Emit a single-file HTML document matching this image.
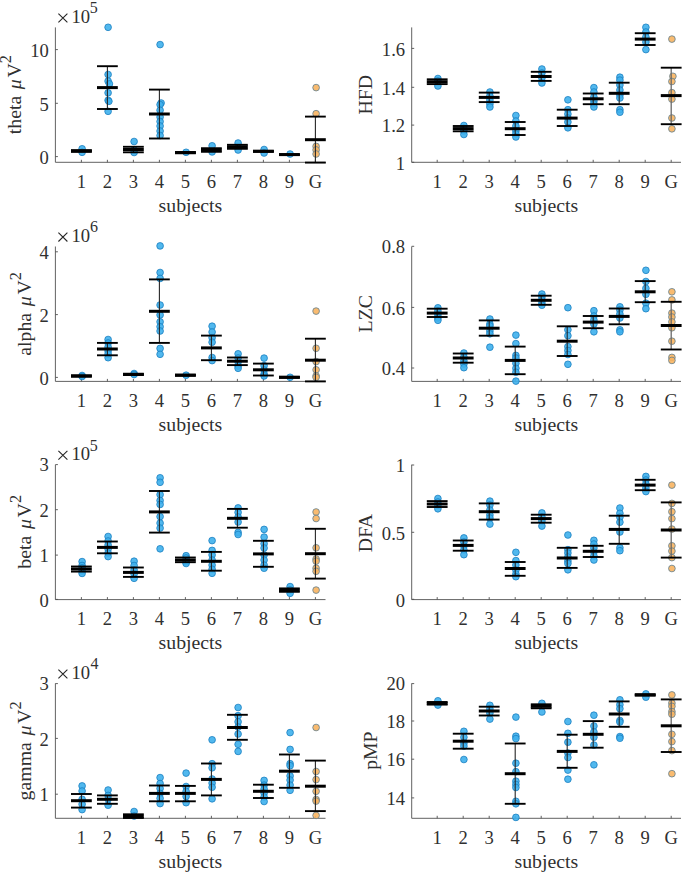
<!DOCTYPE html>
<html><head><meta charset="utf-8"><style>
html,body{margin:0;padding:0;background:#fff;}
svg{display:block;}
text{font-family:"Liberation Serif",serif;fill:#303030;}
.t{font-size:18.6px;}
.l{font-size:19.8px;}
.s2{font-size:16.5px;}
.se{font-size:16.0px;}
.times{fill:none;stroke:#262626;stroke-width:1.1;}
.ax{fill:none;stroke:#505050;stroke-width:0.9;}
.tk{stroke:#505050;stroke-width:0.9;}
.b{fill:#3eb0ec;fill-opacity:0.9;stroke:#1a7fc0;stroke-width:0.8;}
.o{fill:#f8b460;fill-opacity:0.9;stroke:#5f7f90;stroke-width:0.8;}
.v{stroke:#262626;stroke-width:1.1;}
.vg{stroke:#6a6a6a;stroke-width:1.3;}
.cap{stroke:#000;stroke-width:1.9;}
.mean{stroke:#000;stroke-width:3.0;}
</style></head>
<body><svg width="685" height="873" viewBox="0 0 685 873">
<rect width="685" height="873" fill="#fff"/>
<path class="ax" d="M55.4 27.4V162.3H325.5"/>
<line class="tk" x1="81.4" y1="162.3" x2="81.4" y2="159.8"/>
<line class="tk" x1="107.4" y1="162.3" x2="107.4" y2="159.8"/>
<line class="tk" x1="133.4" y1="162.3" x2="133.4" y2="159.8"/>
<line class="tk" x1="159.4" y1="162.3" x2="159.4" y2="159.8"/>
<line class="tk" x1="185.4" y1="162.3" x2="185.4" y2="159.8"/>
<line class="tk" x1="211.4" y1="162.3" x2="211.4" y2="159.8"/>
<line class="tk" x1="237.4" y1="162.3" x2="237.4" y2="159.8"/>
<line class="tk" x1="263.4" y1="162.3" x2="263.4" y2="159.8"/>
<line class="tk" x1="289.4" y1="162.3" x2="289.4" y2="159.8"/>
<line class="tk" x1="315.4" y1="162.3" x2="315.4" y2="159.8"/>
<line class="tk" x1="55.4" y1="156.6" x2="57.9" y2="156.6"/>
<line class="tk" x1="55.4" y1="103.3" x2="57.9" y2="103.3"/>
<line class="tk" x1="55.4" y1="49.6" x2="57.9" y2="49.6"/>
<circle class="b" cx="82.1" cy="148.8" r="3.35"/>
<circle class="b" cx="82.1" cy="152.3" r="3.35"/>
<circle class="b" cx="108.1" cy="27.3" r="3.35"/>
<circle class="b" cx="108.1" cy="74.5" r="3.35"/>
<circle class="b" cx="108.1" cy="81.1" r="3.35"/>
<circle class="b" cx="109.4" cy="83.9" r="3.35"/>
<circle class="b" cx="108.1" cy="92.8" r="3.35"/>
<circle class="b" cx="108.1" cy="100.3" r="3.35"/>
<circle class="b" cx="108.9" cy="101.3" r="3.35"/>
<circle class="b" cx="108.1" cy="111.3" r="3.35"/>
<circle class="b" cx="134.1" cy="141.5" r="3.35"/>
<circle class="b" cx="134.1" cy="150" r="3.35"/>
<circle class="b" cx="134.1" cy="152.5" r="3.35"/>
<circle class="b" cx="160.1" cy="44.6" r="3.35"/>
<circle class="b" cx="161.1" cy="103" r="3.35"/>
<circle class="b" cx="160.1" cy="104.6" r="3.35"/>
<circle class="b" cx="160.1" cy="110.2" r="3.35"/>
<circle class="b" cx="160.1" cy="117" r="3.35"/>
<circle class="b" cx="160.1" cy="121.5" r="3.35"/>
<circle class="b" cx="160.1" cy="126" r="3.35"/>
<circle class="b" cx="160.1" cy="131" r="3.35"/>
<circle class="b" cx="160.1" cy="135.5" r="3.35"/>
<circle class="b" cx="186.1" cy="152.3" r="3.35"/>
<circle class="b" cx="212.1" cy="145.8" r="3.35"/>
<circle class="b" cx="212.1" cy="151.9" r="3.35"/>
<circle class="b" cx="238.1" cy="143" r="3.35"/>
<circle class="b" cx="238.1" cy="150" r="3.35"/>
<circle class="b" cx="264.1" cy="149.5" r="3.35"/>
<circle class="b" cx="264.1" cy="153" r="3.35"/>
<circle class="b" cx="290.1" cy="154" r="3.35"/>
<circle class="o" cx="316.1" cy="87.6" r="3.35"/>
<circle class="o" cx="316.1" cy="113.7" r="3.35"/>
<circle class="o" cx="316.1" cy="146.4" r="3.35"/>
<circle class="o" cx="316.1" cy="149.9" r="3.35"/>
<circle class="o" cx="316.1" cy="154" r="3.35"/>
<line class="v" x1="81.4" y1="150.2" x2="81.4" y2="151.8"/>
<line class="cap" x1="71" y1="150.2" x2="91.8" y2="150.2"/>
<line class="cap" x1="71" y1="151.8" x2="91.8" y2="151.8"/>
<line class="mean" x1="71" y1="151" x2="91.8" y2="151"/>
<line class="v" x1="107.4" y1="66.2" x2="107.4" y2="109"/>
<line class="cap" x1="97" y1="66.2" x2="117.8" y2="66.2"/>
<line class="cap" x1="97" y1="109" x2="117.8" y2="109"/>
<line class="mean" x1="97" y1="87.6" x2="117.8" y2="87.6"/>
<line class="v" x1="133.4" y1="146.8" x2="133.4" y2="152.3"/>
<line class="cap" x1="123" y1="146.8" x2="143.8" y2="146.8"/>
<line class="cap" x1="123" y1="152.3" x2="143.8" y2="152.3"/>
<line class="mean" x1="123" y1="149.5" x2="143.8" y2="149.5"/>
<line class="v" x1="159.4" y1="89.6" x2="159.4" y2="138.5"/>
<line class="cap" x1="149" y1="89.6" x2="169.8" y2="89.6"/>
<line class="cap" x1="149" y1="138.5" x2="169.8" y2="138.5"/>
<line class="mean" x1="149" y1="114" x2="169.8" y2="114"/>
<line class="v" x1="185.4" y1="152" x2="185.4" y2="153.2"/>
<line class="cap" x1="175" y1="152" x2="195.8" y2="152"/>
<line class="cap" x1="175" y1="153.2" x2="195.8" y2="153.2"/>
<line class="mean" x1="175" y1="152.6" x2="195.8" y2="152.6"/>
<line class="v" x1="211.4" y1="148.2" x2="211.4" y2="151.8"/>
<line class="cap" x1="201" y1="148.2" x2="221.8" y2="148.2"/>
<line class="cap" x1="201" y1="151.8" x2="221.8" y2="151.8"/>
<line class="mean" x1="201" y1="150" x2="221.8" y2="150"/>
<line class="v" x1="237.4" y1="144.8" x2="237.4" y2="148.8"/>
<line class="cap" x1="227" y1="144.8" x2="247.8" y2="144.8"/>
<line class="cap" x1="227" y1="148.8" x2="247.8" y2="148.8"/>
<line class="mean" x1="227" y1="146.8" x2="247.8" y2="146.8"/>
<line class="v" x1="263.4" y1="150.8" x2="263.4" y2="151.8"/>
<line class="cap" x1="253" y1="150.8" x2="273.8" y2="150.8"/>
<line class="cap" x1="253" y1="151.8" x2="273.8" y2="151.8"/>
<line class="mean" x1="253" y1="151.3" x2="273.8" y2="151.3"/>
<line class="v" x1="289.4" y1="154.2" x2="289.4" y2="155"/>
<line class="cap" x1="279" y1="154.2" x2="299.8" y2="154.2"/>
<line class="cap" x1="279" y1="155" x2="299.8" y2="155"/>
<line class="mean" x1="279" y1="154.6" x2="299.8" y2="154.6"/>
<line class="v" x1="315.4" y1="116.6" x2="315.4" y2="162.6"/>
<line class="cap" x1="305" y1="116.6" x2="325.8" y2="116.6"/>
<line class="cap" x1="305" y1="162.6" x2="325.8" y2="162.6"/>
<line class="mean" x1="305" y1="139.7" x2="325.8" y2="139.7"/>
<text class="t" x="81.4" y="187.9" text-anchor="middle">1</text>
<text class="t" x="107.4" y="187.9" text-anchor="middle">2</text>
<text class="t" x="133.4" y="187.9" text-anchor="middle">3</text>
<text class="t" x="159.4" y="187.9" text-anchor="middle">4</text>
<text class="t" x="185.4" y="187.9" text-anchor="middle">5</text>
<text class="t" x="211.4" y="187.9" text-anchor="middle">6</text>
<text class="t" x="237.4" y="187.9" text-anchor="middle">7</text>
<text class="t" x="263.4" y="187.9" text-anchor="middle">8</text>
<text class="t" x="289.4" y="187.9" text-anchor="middle">9</text>
<text class="t" x="315.4" y="187.9" text-anchor="middle">G</text>
<text class="t" x="48.8" y="163.8" text-anchor="end">0</text>
<text class="t" x="48.8" y="110.5" text-anchor="end">5</text>
<text class="t" x="48.8" y="56.8" text-anchor="end">10</text>
<text class="l" x="190.45" y="211.7" text-anchor="middle">subjects</text>
<g transform="rotate(-90)"><text class="l" x="-134.18" y="20.8">theta</text><text class="l" x="-89.15" y="20.8" font-style="italic">μ</text><text class="l" x="-77.44" y="20.8">V</text><text class="s2" x="-63.14" y="10.8">2</text></g>
<path class="times" d="M58.4 13.6L67.4 22.4M58.4 22.4L67.4 13.6"/>
<text class="t" x="71.47" y="22.9">10</text>
<text class="se" x="89.87" y="13.3">5</text>
<path class="ax" d="M411.7 27.4V162.3H681"/>
<line class="tk" x1="437.2" y1="162.3" x2="437.2" y2="159.8"/>
<line class="tk" x1="463.2" y1="162.3" x2="463.2" y2="159.8"/>
<line class="tk" x1="489.2" y1="162.3" x2="489.2" y2="159.8"/>
<line class="tk" x1="515.2" y1="162.3" x2="515.2" y2="159.8"/>
<line class="tk" x1="541.2" y1="162.3" x2="541.2" y2="159.8"/>
<line class="tk" x1="567.2" y1="162.3" x2="567.2" y2="159.8"/>
<line class="tk" x1="593.2" y1="162.3" x2="593.2" y2="159.8"/>
<line class="tk" x1="619.2" y1="162.3" x2="619.2" y2="159.8"/>
<line class="tk" x1="645.2" y1="162.3" x2="645.2" y2="159.8"/>
<line class="tk" x1="671.2" y1="162.3" x2="671.2" y2="159.8"/>
<line class="tk" x1="411.7" y1="162.3" x2="414.2" y2="162.3"/>
<line class="tk" x1="411.7" y1="125.1" x2="414.2" y2="125.1"/>
<line class="tk" x1="411.7" y1="87.3" x2="414.2" y2="87.3"/>
<line class="tk" x1="411.7" y1="48.4" x2="414.2" y2="48.4"/>
<circle class="b" cx="437.9" cy="78.5" r="3.35"/>
<circle class="b" cx="437.9" cy="81" r="3.35"/>
<circle class="b" cx="437.9" cy="86" r="3.35"/>
<circle class="b" cx="463.9" cy="125.5" r="3.35"/>
<circle class="b" cx="463.9" cy="128.5" r="3.35"/>
<circle class="b" cx="463.9" cy="131" r="3.35"/>
<circle class="b" cx="463.9" cy="134.5" r="3.35"/>
<circle class="b" cx="489.9" cy="92" r="3.35"/>
<circle class="b" cx="489.9" cy="96" r="3.35"/>
<circle class="b" cx="489.9" cy="100" r="3.35"/>
<circle class="b" cx="489.9" cy="104" r="3.35"/>
<circle class="b" cx="489.9" cy="107" r="3.35"/>
<circle class="b" cx="515.9" cy="115.5" r="3.35"/>
<circle class="b" cx="515.9" cy="121" r="3.35"/>
<circle class="b" cx="515.9" cy="126" r="3.35"/>
<circle class="b" cx="515.9" cy="131" r="3.35"/>
<circle class="b" cx="515.9" cy="134" r="3.35"/>
<circle class="b" cx="515.9" cy="137" r="3.35"/>
<circle class="b" cx="541.9" cy="69" r="3.35"/>
<circle class="b" cx="541.9" cy="73" r="3.35"/>
<circle class="b" cx="541.9" cy="78" r="3.35"/>
<circle class="b" cx="541.9" cy="83" r="3.35"/>
<circle class="b" cx="567.9" cy="99.8" r="3.35"/>
<circle class="b" cx="567.9" cy="109.7" r="3.35"/>
<circle class="b" cx="567.9" cy="114" r="3.35"/>
<circle class="b" cx="567.9" cy="118" r="3.35"/>
<circle class="b" cx="567.9" cy="122" r="3.35"/>
<circle class="b" cx="567.9" cy="127.8" r="3.35"/>
<circle class="b" cx="593.9" cy="87.6" r="3.35"/>
<circle class="b" cx="593.9" cy="92" r="3.35"/>
<circle class="b" cx="593.9" cy="97" r="3.35"/>
<circle class="b" cx="593.9" cy="101" r="3.35"/>
<circle class="b" cx="593.9" cy="104" r="3.35"/>
<circle class="b" cx="593.9" cy="107" r="3.35"/>
<circle class="b" cx="619.9" cy="77.2" r="3.35"/>
<circle class="b" cx="619.9" cy="80.1" r="3.35"/>
<circle class="b" cx="619.9" cy="85" r="3.35"/>
<circle class="b" cx="619.9" cy="90" r="3.35"/>
<circle class="b" cx="619.9" cy="95" r="3.35"/>
<circle class="b" cx="619.9" cy="98" r="3.35"/>
<circle class="b" cx="619.9" cy="109.7" r="3.35"/>
<circle class="b" cx="619.9" cy="112.2" r="3.35"/>
<circle class="b" cx="645.9" cy="27.3" r="3.35"/>
<circle class="b" cx="645.9" cy="32" r="3.35"/>
<circle class="b" cx="645.9" cy="37" r="3.35"/>
<circle class="b" cx="645.9" cy="42" r="3.35"/>
<circle class="b" cx="645.9" cy="49.6" r="3.35"/>
<circle class="o" cx="671.9" cy="39.1" r="3.35"/>
<circle class="o" cx="672.9" cy="76.3" r="3.35"/>
<circle class="o" cx="671.9" cy="81.5" r="3.35"/>
<circle class="o" cx="671.9" cy="92.7" r="3.35"/>
<circle class="o" cx="671.9" cy="99.1" r="3.35"/>
<circle class="o" cx="671.9" cy="118" r="3.35"/>
<circle class="o" cx="671.9" cy="128.8" r="3.35"/>
<line class="v" x1="437.2" y1="79.3" x2="437.2" y2="84.1"/>
<line class="cap" x1="426.8" y1="79.3" x2="447.6" y2="79.3"/>
<line class="cap" x1="426.8" y1="84.1" x2="447.6" y2="84.1"/>
<line class="mean" x1="426.8" y1="81.7" x2="447.6" y2="81.7"/>
<line class="v" x1="463.2" y1="126" x2="463.2" y2="131.3"/>
<line class="cap" x1="452.8" y1="126" x2="473.6" y2="126"/>
<line class="cap" x1="452.8" y1="131.3" x2="473.6" y2="131.3"/>
<line class="mean" x1="452.8" y1="128.6" x2="473.6" y2="128.6"/>
<line class="v" x1="489.2" y1="92.6" x2="489.2" y2="102.1"/>
<line class="cap" x1="478.8" y1="92.6" x2="499.6" y2="92.6"/>
<line class="cap" x1="478.8" y1="102.1" x2="499.6" y2="102.1"/>
<line class="mean" x1="478.8" y1="97.4" x2="499.6" y2="97.4"/>
<line class="v" x1="515.2" y1="122" x2="515.2" y2="135"/>
<line class="cap" x1="504.8" y1="122" x2="525.6" y2="122"/>
<line class="cap" x1="504.8" y1="135" x2="525.6" y2="135"/>
<line class="mean" x1="504.8" y1="128.7" x2="525.6" y2="128.7"/>
<line class="v" x1="541.2" y1="71.8" x2="541.2" y2="80.9"/>
<line class="cap" x1="530.8" y1="71.8" x2="551.6" y2="71.8"/>
<line class="cap" x1="530.8" y1="80.9" x2="551.6" y2="80.9"/>
<line class="mean" x1="530.8" y1="76.5" x2="551.6" y2="76.5"/>
<line class="v" x1="567.2" y1="109.7" x2="567.2" y2="126"/>
<line class="cap" x1="556.8" y1="109.7" x2="577.6" y2="109.7"/>
<line class="cap" x1="556.8" y1="126" x2="577.6" y2="126"/>
<line class="mean" x1="556.8" y1="118.1" x2="577.6" y2="118.1"/>
<line class="v" x1="593.2" y1="93.5" x2="593.2" y2="104.2"/>
<line class="cap" x1="582.8" y1="93.5" x2="603.6" y2="93.5"/>
<line class="cap" x1="582.8" y1="104.2" x2="603.6" y2="104.2"/>
<line class="mean" x1="582.8" y1="98.8" x2="603.6" y2="98.8"/>
<line class="v" x1="619.2" y1="82.7" x2="619.2" y2="104.2"/>
<line class="cap" x1="608.8" y1="82.7" x2="629.6" y2="82.7"/>
<line class="cap" x1="608.8" y1="104.2" x2="629.6" y2="104.2"/>
<line class="mean" x1="608.8" y1="93.3" x2="629.6" y2="93.3"/>
<line class="v" x1="645.2" y1="33.2" x2="645.2" y2="45"/>
<line class="cap" x1="634.8" y1="33.2" x2="655.6" y2="33.2"/>
<line class="cap" x1="634.8" y1="45" x2="655.6" y2="45"/>
<line class="mean" x1="634.8" y1="39.1" x2="655.6" y2="39.1"/>
<line class="vg" x1="671.2" y1="67.7" x2="671.2" y2="124.2"/>
<line class="cap" x1="660.8" y1="67.7" x2="681.6" y2="67.7"/>
<line class="cap" x1="660.8" y1="124.2" x2="681.6" y2="124.2"/>
<line class="mean" x1="660.8" y1="95.6" x2="681.6" y2="95.6"/>
<text class="t" x="437.2" y="187.9" text-anchor="middle">1</text>
<text class="t" x="463.2" y="187.9" text-anchor="middle">2</text>
<text class="t" x="489.2" y="187.9" text-anchor="middle">3</text>
<text class="t" x="515.2" y="187.9" text-anchor="middle">4</text>
<text class="t" x="541.2" y="187.9" text-anchor="middle">5</text>
<text class="t" x="567.2" y="187.9" text-anchor="middle">6</text>
<text class="t" x="593.2" y="187.9" text-anchor="middle">7</text>
<text class="t" x="619.2" y="187.9" text-anchor="middle">8</text>
<text class="t" x="645.2" y="187.9" text-anchor="middle">9</text>
<text class="t" x="671.2" y="187.9" text-anchor="middle">G</text>
<text class="t" x="405.1" y="170.2" text-anchor="end">1</text>
<text class="t" x="405.1" y="132.3" text-anchor="end">1.2</text>
<text class="t" x="405.1" y="94.5" text-anchor="end">1.4</text>
<text class="t" x="405.1" y="55.6" text-anchor="end">1.6</text>
<text class="l" x="546.35" y="211.7" text-anchor="middle">subjects</text>
<text class="l" transform="rotate(-90)" x="-114.54" y="371.8">HFD</text>
<path class="ax" d="M55.4 246.5V381.4H325.5"/>
<line class="tk" x1="81.4" y1="381.4" x2="81.4" y2="378.9"/>
<line class="tk" x1="107.4" y1="381.4" x2="107.4" y2="378.9"/>
<line class="tk" x1="133.4" y1="381.4" x2="133.4" y2="378.9"/>
<line class="tk" x1="159.4" y1="381.4" x2="159.4" y2="378.9"/>
<line class="tk" x1="185.4" y1="381.4" x2="185.4" y2="378.9"/>
<line class="tk" x1="211.4" y1="381.4" x2="211.4" y2="378.9"/>
<line class="tk" x1="237.4" y1="381.4" x2="237.4" y2="378.9"/>
<line class="tk" x1="263.4" y1="381.4" x2="263.4" y2="378.9"/>
<line class="tk" x1="289.4" y1="381.4" x2="289.4" y2="378.9"/>
<line class="tk" x1="315.4" y1="381.4" x2="315.4" y2="378.9"/>
<line class="tk" x1="55.4" y1="377.4" x2="57.9" y2="377.4"/>
<line class="tk" x1="55.4" y1="314.6" x2="57.9" y2="314.6"/>
<line class="tk" x1="55.4" y1="251.8" x2="57.9" y2="251.8"/>
<circle class="b" cx="82.1" cy="375.5" r="3.35"/>
<circle class="b" cx="82.1" cy="376.5" r="3.35"/>
<circle class="b" cx="108.1" cy="339.5" r="3.35"/>
<circle class="b" cx="108.1" cy="343" r="3.35"/>
<circle class="b" cx="108.1" cy="347" r="3.35"/>
<circle class="b" cx="108.1" cy="351" r="3.35"/>
<circle class="b" cx="108.1" cy="354" r="3.35"/>
<circle class="b" cx="108.1" cy="357.7" r="3.35"/>
<circle class="b" cx="134.1" cy="373.5" r="3.35"/>
<circle class="b" cx="134.1" cy="374.5" r="3.35"/>
<circle class="b" cx="160.1" cy="245.9" r="3.35"/>
<circle class="b" cx="160.1" cy="272.5" r="3.35"/>
<circle class="b" cx="160.1" cy="278.4" r="3.35"/>
<circle class="b" cx="160.1" cy="305" r="3.35"/>
<circle class="b" cx="160.1" cy="314.9" r="3.35"/>
<circle class="b" cx="160.1" cy="321.8" r="3.35"/>
<circle class="b" cx="160.1" cy="326.7" r="3.35"/>
<circle class="b" cx="160.1" cy="331" r="3.35"/>
<circle class="b" cx="160.1" cy="348.4" r="3.35"/>
<circle class="b" cx="160.1" cy="354.3" r="3.35"/>
<circle class="b" cx="186.1" cy="375.2" r="3.35"/>
<circle class="b" cx="212.1" cy="326.2" r="3.35"/>
<circle class="b" cx="212.1" cy="332" r="3.35"/>
<circle class="b" cx="212.1" cy="337.7" r="3.35"/>
<circle class="b" cx="212.1" cy="342.2" r="3.35"/>
<circle class="b" cx="212.1" cy="357.5" r="3.35"/>
<circle class="b" cx="212.1" cy="360.6" r="3.35"/>
<circle class="b" cx="238.1" cy="353.8" r="3.35"/>
<circle class="b" cx="238.1" cy="358" r="3.35"/>
<circle class="b" cx="238.1" cy="362" r="3.35"/>
<circle class="b" cx="238.1" cy="366" r="3.35"/>
<circle class="b" cx="238.1" cy="368.3" r="3.35"/>
<circle class="b" cx="264.1" cy="358.1" r="3.35"/>
<circle class="b" cx="264.1" cy="365.7" r="3.35"/>
<circle class="b" cx="264.1" cy="370" r="3.35"/>
<circle class="b" cx="264.1" cy="374" r="3.35"/>
<circle class="b" cx="264.1" cy="375.9" r="3.35"/>
<circle class="b" cx="290.1" cy="377.3" r="3.35"/>
<circle class="o" cx="316.1" cy="311.1" r="3.35"/>
<circle class="o" cx="316.1" cy="348.3" r="3.35"/>
<circle class="o" cx="316.1" cy="361.6" r="3.35"/>
<circle class="o" cx="316.1" cy="369.8" r="3.35"/>
<circle class="o" cx="316.1" cy="375.9" r="3.35"/>
<circle class="o" cx="316.1" cy="377.3" r="3.35"/>
<line class="v" x1="81.4" y1="375.4" x2="81.4" y2="376.6"/>
<line class="cap" x1="71" y1="375.4" x2="91.8" y2="375.4"/>
<line class="cap" x1="71" y1="376.6" x2="91.8" y2="376.6"/>
<line class="mean" x1="71" y1="376" x2="91.8" y2="376"/>
<line class="v" x1="107.4" y1="342.9" x2="107.4" y2="355.3"/>
<line class="cap" x1="97" y1="342.9" x2="117.8" y2="342.9"/>
<line class="cap" x1="97" y1="355.3" x2="117.8" y2="355.3"/>
<line class="mean" x1="97" y1="349" x2="117.8" y2="349"/>
<line class="v" x1="133.4" y1="373.8" x2="133.4" y2="375"/>
<line class="cap" x1="123" y1="373.8" x2="143.8" y2="373.8"/>
<line class="cap" x1="123" y1="375" x2="143.8" y2="375"/>
<line class="mean" x1="123" y1="374.4" x2="143.8" y2="374.4"/>
<line class="v" x1="159.4" y1="279.4" x2="159.4" y2="342.9"/>
<line class="cap" x1="149" y1="279.4" x2="169.8" y2="279.4"/>
<line class="cap" x1="149" y1="342.9" x2="169.8" y2="342.9"/>
<line class="mean" x1="149" y1="311.3" x2="169.8" y2="311.3"/>
<line class="v" x1="185.4" y1="374.7" x2="185.4" y2="375.7"/>
<line class="cap" x1="175" y1="374.7" x2="195.8" y2="374.7"/>
<line class="cap" x1="175" y1="375.7" x2="195.8" y2="375.7"/>
<line class="mean" x1="175" y1="375.2" x2="195.8" y2="375.2"/>
<line class="v" x1="211.4" y1="335.6" x2="211.4" y2="360.2"/>
<line class="cap" x1="201" y1="335.6" x2="221.8" y2="335.6"/>
<line class="cap" x1="201" y1="360.2" x2="221.8" y2="360.2"/>
<line class="mean" x1="201" y1="347.9" x2="221.8" y2="347.9"/>
<line class="v" x1="237.4" y1="357.5" x2="237.4" y2="365.1"/>
<line class="cap" x1="227" y1="357.5" x2="247.8" y2="357.5"/>
<line class="cap" x1="227" y1="365.1" x2="247.8" y2="365.1"/>
<line class="mean" x1="227" y1="361.2" x2="247.8" y2="361.2"/>
<line class="v" x1="263.4" y1="363.6" x2="263.4" y2="375.5"/>
<line class="cap" x1="253" y1="363.6" x2="273.8" y2="363.6"/>
<line class="cap" x1="253" y1="375.5" x2="273.8" y2="375.5"/>
<line class="mean" x1="253" y1="369.8" x2="273.8" y2="369.8"/>
<line class="v" x1="289.4" y1="376.8" x2="289.4" y2="377.8"/>
<line class="cap" x1="279" y1="376.8" x2="299.8" y2="376.8"/>
<line class="cap" x1="279" y1="377.8" x2="299.8" y2="377.8"/>
<line class="mean" x1="279" y1="377.3" x2="299.8" y2="377.3"/>
<line class="v" x1="315.4" y1="338.7" x2="315.4" y2="381.4"/>
<line class="cap" x1="305" y1="338.7" x2="325.8" y2="338.7"/>
<line class="cap" x1="305" y1="381.4" x2="325.8" y2="381.4"/>
<line class="mean" x1="305" y1="360.2" x2="325.8" y2="360.2"/>
<text class="t" x="81.4" y="407" text-anchor="middle">1</text>
<text class="t" x="107.4" y="407" text-anchor="middle">2</text>
<text class="t" x="133.4" y="407" text-anchor="middle">3</text>
<text class="t" x="159.4" y="407" text-anchor="middle">4</text>
<text class="t" x="185.4" y="407" text-anchor="middle">5</text>
<text class="t" x="211.4" y="407" text-anchor="middle">6</text>
<text class="t" x="237.4" y="407" text-anchor="middle">7</text>
<text class="t" x="263.4" y="407" text-anchor="middle">8</text>
<text class="t" x="289.4" y="407" text-anchor="middle">9</text>
<text class="t" x="315.4" y="407" text-anchor="middle">G</text>
<text class="t" x="48.8" y="384.6" text-anchor="end">0</text>
<text class="t" x="48.8" y="321.8" text-anchor="end">2</text>
<text class="t" x="48.8" y="259" text-anchor="end">4</text>
<text class="l" x="190.45" y="430.8" text-anchor="middle">subjects</text>
<g transform="rotate(-90)"><text class="l" x="-355.73" y="30.8">alpha</text><text class="l" x="-306.3" y="30.8" font-style="italic">μ</text><text class="l" x="-294.59" y="30.8">V</text><text class="s2" x="-280.29" y="20.8">2</text></g>
<path class="times" d="M58.4 232.7L67.4 241.5M58.4 241.5L67.4 232.7"/>
<text class="t" x="71.47" y="242">10</text>
<text class="se" x="90.11" y="232.4">6</text>
<path class="ax" d="M411.7 246.5V381.4H681"/>
<line class="tk" x1="437.2" y1="381.4" x2="437.2" y2="378.9"/>
<line class="tk" x1="463.2" y1="381.4" x2="463.2" y2="378.9"/>
<line class="tk" x1="489.2" y1="381.4" x2="489.2" y2="378.9"/>
<line class="tk" x1="515.2" y1="381.4" x2="515.2" y2="378.9"/>
<line class="tk" x1="541.2" y1="381.4" x2="541.2" y2="378.9"/>
<line class="tk" x1="567.2" y1="381.4" x2="567.2" y2="378.9"/>
<line class="tk" x1="593.2" y1="381.4" x2="593.2" y2="378.9"/>
<line class="tk" x1="619.2" y1="381.4" x2="619.2" y2="378.9"/>
<line class="tk" x1="645.2" y1="381.4" x2="645.2" y2="378.9"/>
<line class="tk" x1="671.2" y1="381.4" x2="671.2" y2="378.9"/>
<line class="tk" x1="411.7" y1="368" x2="414.2" y2="368"/>
<line class="tk" x1="411.7" y1="307.4" x2="414.2" y2="307.4"/>
<line class="tk" x1="411.7" y1="246.3" x2="414.2" y2="246.3"/>
<circle class="b" cx="437.9" cy="307.8" r="3.35"/>
<circle class="b" cx="437.9" cy="311" r="3.35"/>
<circle class="b" cx="437.9" cy="315" r="3.35"/>
<circle class="b" cx="437.9" cy="318" r="3.35"/>
<circle class="b" cx="437.9" cy="320.3" r="3.35"/>
<circle class="b" cx="463.9" cy="353" r="3.35"/>
<circle class="b" cx="463.9" cy="357" r="3.35"/>
<circle class="b" cx="463.9" cy="361" r="3.35"/>
<circle class="b" cx="463.9" cy="364" r="3.35"/>
<circle class="b" cx="463.9" cy="367.7" r="3.35"/>
<circle class="b" cx="489.9" cy="319" r="3.35"/>
<circle class="b" cx="489.9" cy="324" r="3.35"/>
<circle class="b" cx="489.9" cy="325.9" r="3.35"/>
<circle class="b" cx="489.9" cy="331" r="3.35"/>
<circle class="b" cx="489.9" cy="333.8" r="3.35"/>
<circle class="b" cx="489.9" cy="347.2" r="3.35"/>
<circle class="b" cx="515.9" cy="335.1" r="3.35"/>
<circle class="b" cx="515.9" cy="343.6" r="3.35"/>
<circle class="b" cx="515.9" cy="355.4" r="3.35"/>
<circle class="b" cx="515.9" cy="358" r="3.35"/>
<circle class="b" cx="515.9" cy="363.3" r="3.35"/>
<circle class="b" cx="515.9" cy="368.3" r="3.35"/>
<circle class="b" cx="515.9" cy="372.2" r="3.35"/>
<circle class="b" cx="515.9" cy="381.1" r="3.35"/>
<circle class="b" cx="541.9" cy="294" r="3.35"/>
<circle class="b" cx="541.9" cy="297" r="3.35"/>
<circle class="b" cx="541.9" cy="300" r="3.35"/>
<circle class="b" cx="541.9" cy="303" r="3.35"/>
<circle class="b" cx="541.9" cy="305.2" r="3.35"/>
<circle class="b" cx="567.9" cy="307.7" r="3.35"/>
<circle class="b" cx="567.9" cy="329.8" r="3.35"/>
<circle class="b" cx="567.9" cy="335.7" r="3.35"/>
<circle class="b" cx="567.9" cy="346.6" r="3.35"/>
<circle class="b" cx="567.9" cy="350.5" r="3.35"/>
<circle class="b" cx="567.9" cy="354.5" r="3.35"/>
<circle class="b" cx="567.9" cy="364.3" r="3.35"/>
<circle class="b" cx="593.9" cy="310.7" r="3.35"/>
<circle class="b" cx="593.9" cy="316" r="3.35"/>
<circle class="b" cx="593.9" cy="320" r="3.35"/>
<circle class="b" cx="593.9" cy="324" r="3.35"/>
<circle class="b" cx="593.9" cy="331.8" r="3.35"/>
<circle class="b" cx="619.9" cy="306.8" r="3.35"/>
<circle class="b" cx="619.9" cy="310" r="3.35"/>
<circle class="b" cx="619.9" cy="314" r="3.35"/>
<circle class="b" cx="619.9" cy="318" r="3.35"/>
<circle class="b" cx="619.9" cy="329.8" r="3.35"/>
<circle class="b" cx="619.9" cy="331.8" r="3.35"/>
<circle class="b" cx="645.9" cy="270.3" r="3.35"/>
<circle class="b" cx="645.9" cy="281.5" r="3.35"/>
<circle class="b" cx="645.9" cy="288.4" r="3.35"/>
<circle class="b" cx="645.9" cy="294.3" r="3.35"/>
<circle class="b" cx="645.9" cy="303.2" r="3.35"/>
<circle class="b" cx="645.9" cy="308.7" r="3.35"/>
<circle class="o" cx="671.9" cy="291.8" r="3.35"/>
<circle class="o" cx="671.9" cy="299.9" r="3.35"/>
<circle class="o" cx="671.9" cy="313.1" r="3.35"/>
<circle class="o" cx="671.9" cy="317" r="3.35"/>
<circle class="o" cx="671.9" cy="321.9" r="3.35"/>
<circle class="o" cx="671.9" cy="327.8" r="3.35"/>
<circle class="o" cx="671.9" cy="341.2" r="3.35"/>
<circle class="o" cx="671.9" cy="357.4" r="3.35"/>
<circle class="o" cx="671.9" cy="360.4" r="3.35"/>
<line class="v" x1="437.2" y1="308.7" x2="437.2" y2="317"/>
<line class="cap" x1="426.8" y1="308.7" x2="447.6" y2="308.7"/>
<line class="cap" x1="426.8" y1="317" x2="447.6" y2="317"/>
<line class="mean" x1="426.8" y1="313.1" x2="447.6" y2="313.1"/>
<line class="v" x1="463.2" y1="353.5" x2="463.2" y2="362.7"/>
<line class="cap" x1="452.8" y1="353.5" x2="473.6" y2="353.5"/>
<line class="cap" x1="452.8" y1="362.7" x2="473.6" y2="362.7"/>
<line class="mean" x1="452.8" y1="358" x2="473.6" y2="358"/>
<line class="v" x1="489.2" y1="320.4" x2="489.2" y2="335.7"/>
<line class="cap" x1="478.8" y1="320.4" x2="499.6" y2="320.4"/>
<line class="cap" x1="478.8" y1="335.7" x2="499.6" y2="335.7"/>
<line class="mean" x1="478.8" y1="328.2" x2="499.6" y2="328.2"/>
<line class="v" x1="515.2" y1="346.6" x2="515.2" y2="374.2"/>
<line class="cap" x1="504.8" y1="346.6" x2="525.6" y2="346.6"/>
<line class="cap" x1="504.8" y1="374.2" x2="525.6" y2="374.2"/>
<line class="mean" x1="504.8" y1="360.4" x2="525.6" y2="360.4"/>
<line class="v" x1="541.2" y1="295.7" x2="541.2" y2="304.8"/>
<line class="cap" x1="530.8" y1="295.7" x2="551.6" y2="295.7"/>
<line class="cap" x1="530.8" y1="304.8" x2="551.6" y2="304.8"/>
<line class="mean" x1="530.8" y1="300.3" x2="551.6" y2="300.3"/>
<line class="v" x1="567.2" y1="326.3" x2="567.2" y2="356"/>
<line class="cap" x1="556.8" y1="326.3" x2="577.6" y2="326.3"/>
<line class="cap" x1="556.8" y1="356" x2="577.6" y2="356"/>
<line class="mean" x1="556.8" y1="341.2" x2="577.6" y2="341.2"/>
<line class="v" x1="593.2" y1="316" x2="593.2" y2="328.2"/>
<line class="cap" x1="582.8" y1="316" x2="603.6" y2="316"/>
<line class="cap" x1="582.8" y1="328.2" x2="603.6" y2="328.2"/>
<line class="mean" x1="582.8" y1="322.1" x2="603.6" y2="322.1"/>
<line class="v" x1="619.2" y1="308.5" x2="619.2" y2="324.3"/>
<line class="cap" x1="608.8" y1="308.5" x2="629.6" y2="308.5"/>
<line class="cap" x1="608.8" y1="324.3" x2="629.6" y2="324.3"/>
<line class="mean" x1="608.8" y1="316.4" x2="629.6" y2="316.4"/>
<line class="v" x1="645.2" y1="281.1" x2="645.2" y2="302.2"/>
<line class="cap" x1="634.8" y1="281.1" x2="655.6" y2="281.1"/>
<line class="cap" x1="634.8" y1="302.2" x2="655.6" y2="302.2"/>
<line class="mean" x1="634.8" y1="291.8" x2="655.6" y2="291.8"/>
<line class="vg" x1="671.2" y1="301.8" x2="671.2" y2="349.5"/>
<line class="cap" x1="660.8" y1="301.8" x2="681.6" y2="301.8"/>
<line class="cap" x1="660.8" y1="349.5" x2="681.6" y2="349.5"/>
<line class="mean" x1="660.8" y1="325.5" x2="681.6" y2="325.5"/>
<text class="t" x="437.2" y="407" text-anchor="middle">1</text>
<text class="t" x="463.2" y="407" text-anchor="middle">2</text>
<text class="t" x="489.2" y="407" text-anchor="middle">3</text>
<text class="t" x="515.2" y="407" text-anchor="middle">4</text>
<text class="t" x="541.2" y="407" text-anchor="middle">5</text>
<text class="t" x="567.2" y="407" text-anchor="middle">6</text>
<text class="t" x="593.2" y="407" text-anchor="middle">7</text>
<text class="t" x="619.2" y="407" text-anchor="middle">8</text>
<text class="t" x="645.2" y="407" text-anchor="middle">9</text>
<text class="t" x="671.2" y="407" text-anchor="middle">G</text>
<text class="t" x="405.1" y="375.2" text-anchor="end">0.4</text>
<text class="t" x="405.1" y="314.6" text-anchor="end">0.6</text>
<text class="t" x="405.1" y="253" text-anchor="end">0.8</text>
<text class="l" x="546.35" y="430.8" text-anchor="middle">subjects</text>
<text class="l" transform="rotate(-90)" x="-332.39" y="371.8">LZC</text>
<path class="ax" d="M55.4 464.7V599.6H325.5"/>
<line class="tk" x1="81.4" y1="599.6" x2="81.4" y2="597.1"/>
<line class="tk" x1="107.4" y1="599.6" x2="107.4" y2="597.1"/>
<line class="tk" x1="133.4" y1="599.6" x2="133.4" y2="597.1"/>
<line class="tk" x1="159.4" y1="599.6" x2="159.4" y2="597.1"/>
<line class="tk" x1="185.4" y1="599.6" x2="185.4" y2="597.1"/>
<line class="tk" x1="211.4" y1="599.6" x2="211.4" y2="597.1"/>
<line class="tk" x1="237.4" y1="599.6" x2="237.4" y2="597.1"/>
<line class="tk" x1="263.4" y1="599.6" x2="263.4" y2="597.1"/>
<line class="tk" x1="289.4" y1="599.6" x2="289.4" y2="597.1"/>
<line class="tk" x1="315.4" y1="599.6" x2="315.4" y2="597.1"/>
<line class="tk" x1="55.4" y1="599.4" x2="57.9" y2="599.4"/>
<line class="tk" x1="55.4" y1="555.1" x2="57.9" y2="555.1"/>
<line class="tk" x1="55.4" y1="509.7" x2="57.9" y2="509.7"/>
<line class="tk" x1="55.4" y1="464.6" x2="57.9" y2="464.6"/>
<circle class="b" cx="82.1" cy="561.6" r="3.35"/>
<circle class="b" cx="82.1" cy="565.5" r="3.35"/>
<circle class="b" cx="82.1" cy="568" r="3.35"/>
<circle class="b" cx="82.1" cy="571" r="3.35"/>
<circle class="b" cx="82.1" cy="573.4" r="3.35"/>
<circle class="b" cx="108.1" cy="536.5" r="3.35"/>
<circle class="b" cx="108.1" cy="541" r="3.35"/>
<circle class="b" cx="108.1" cy="545" r="3.35"/>
<circle class="b" cx="108.1" cy="549" r="3.35"/>
<circle class="b" cx="108.1" cy="553" r="3.35"/>
<circle class="b" cx="108.1" cy="556.6" r="3.35"/>
<circle class="b" cx="134.1" cy="561.2" r="3.35"/>
<circle class="b" cx="134.1" cy="565.5" r="3.35"/>
<circle class="b" cx="134.1" cy="570" r="3.35"/>
<circle class="b" cx="134.1" cy="574" r="3.35"/>
<circle class="b" cx="134.1" cy="578.3" r="3.35"/>
<circle class="b" cx="160.1" cy="477.8" r="3.35"/>
<circle class="b" cx="160.1" cy="482.3" r="3.35"/>
<circle class="b" cx="160.1" cy="494.6" r="3.35"/>
<circle class="b" cx="160.1" cy="500.5" r="3.35"/>
<circle class="b" cx="160.1" cy="504.4" r="3.35"/>
<circle class="b" cx="160.1" cy="516.6" r="3.35"/>
<circle class="b" cx="160.1" cy="523.1" r="3.35"/>
<circle class="b" cx="160.1" cy="528.1" r="3.35"/>
<circle class="b" cx="160.1" cy="548.8" r="3.35"/>
<circle class="b" cx="186.1" cy="555.7" r="3.35"/>
<circle class="b" cx="186.1" cy="558" r="3.35"/>
<circle class="b" cx="186.1" cy="562" r="3.35"/>
<circle class="b" cx="186.1" cy="563.5" r="3.35"/>
<circle class="b" cx="212.1" cy="540.6" r="3.35"/>
<circle class="b" cx="212.1" cy="550.4" r="3.35"/>
<circle class="b" cx="212.1" cy="554.9" r="3.35"/>
<circle class="b" cx="212.1" cy="560" r="3.35"/>
<circle class="b" cx="212.1" cy="565.1" r="3.35"/>
<circle class="b" cx="212.1" cy="569.2" r="3.35"/>
<circle class="b" cx="212.1" cy="573.3" r="3.35"/>
<circle class="b" cx="238.1" cy="507.9" r="3.35"/>
<circle class="b" cx="238.1" cy="512.4" r="3.35"/>
<circle class="b" cx="238.1" cy="517" r="3.35"/>
<circle class="b" cx="238.1" cy="522" r="3.35"/>
<circle class="b" cx="238.1" cy="532.4" r="3.35"/>
<circle class="b" cx="238.1" cy="534.5" r="3.35"/>
<circle class="b" cx="264.1" cy="529.4" r="3.35"/>
<circle class="b" cx="264.1" cy="537.1" r="3.35"/>
<circle class="b" cx="264.1" cy="543.7" r="3.35"/>
<circle class="b" cx="264.1" cy="548" r="3.35"/>
<circle class="b" cx="264.1" cy="554.9" r="3.35"/>
<circle class="b" cx="264.1" cy="560" r="3.35"/>
<circle class="b" cx="264.1" cy="565.1" r="3.35"/>
<circle class="b" cx="264.1" cy="568.2" r="3.35"/>
<circle class="b" cx="290.1" cy="586.6" r="3.35"/>
<circle class="b" cx="290.1" cy="590" r="3.35"/>
<circle class="b" cx="290.1" cy="593.3" r="3.35"/>
<circle class="o" cx="316.1" cy="512" r="3.35"/>
<circle class="o" cx="316.1" cy="518.5" r="3.35"/>
<circle class="o" cx="316.1" cy="547.8" r="3.35"/>
<circle class="o" cx="316.1" cy="559" r="3.35"/>
<circle class="o" cx="316.1" cy="561.1" r="3.35"/>
<circle class="o" cx="316.1" cy="568.2" r="3.35"/>
<circle class="o" cx="316.1" cy="571.3" r="3.35"/>
<circle class="o" cx="316.1" cy="590.1" r="3.35"/>
<line class="v" x1="81.4" y1="566.5" x2="81.4" y2="571.6"/>
<line class="cap" x1="71" y1="566.5" x2="91.8" y2="566.5"/>
<line class="cap" x1="71" y1="571.6" x2="91.8" y2="571.6"/>
<line class="mean" x1="71" y1="569" x2="91.8" y2="569"/>
<line class="v" x1="107.4" y1="541.5" x2="107.4" y2="553.3"/>
<line class="cap" x1="97" y1="541.5" x2="117.8" y2="541.5"/>
<line class="cap" x1="97" y1="553.3" x2="117.8" y2="553.3"/>
<line class="mean" x1="97" y1="547.4" x2="117.8" y2="547.4"/>
<line class="v" x1="133.4" y1="567.5" x2="133.4" y2="576.9"/>
<line class="cap" x1="123" y1="567.5" x2="143.8" y2="567.5"/>
<line class="cap" x1="123" y1="576.9" x2="143.8" y2="576.9"/>
<line class="mean" x1="123" y1="572.4" x2="143.8" y2="572.4"/>
<line class="v" x1="159.4" y1="491" x2="159.4" y2="532.6"/>
<line class="cap" x1="149" y1="491" x2="169.8" y2="491"/>
<line class="cap" x1="149" y1="532.6" x2="169.8" y2="532.6"/>
<line class="mean" x1="149" y1="511.9" x2="169.8" y2="511.9"/>
<line class="v" x1="185.4" y1="557.5" x2="185.4" y2="562.2"/>
<line class="cap" x1="175" y1="557.5" x2="195.8" y2="557.5"/>
<line class="cap" x1="175" y1="562.2" x2="195.8" y2="562.2"/>
<line class="mean" x1="175" y1="560" x2="195.8" y2="560"/>
<line class="v" x1="211.4" y1="551.9" x2="211.4" y2="570.7"/>
<line class="cap" x1="201" y1="551.9" x2="221.8" y2="551.9"/>
<line class="cap" x1="201" y1="570.7" x2="221.8" y2="570.7"/>
<line class="mean" x1="201" y1="561.3" x2="221.8" y2="561.3"/>
<line class="v" x1="237.4" y1="508.9" x2="237.4" y2="527.7"/>
<line class="cap" x1="227" y1="508.9" x2="247.8" y2="508.9"/>
<line class="cap" x1="227" y1="527.7" x2="247.8" y2="527.7"/>
<line class="mean" x1="227" y1="518.3" x2="247.8" y2="518.3"/>
<line class="v" x1="263.4" y1="540.8" x2="263.4" y2="566.8"/>
<line class="cap" x1="253" y1="540.8" x2="273.8" y2="540.8"/>
<line class="cap" x1="253" y1="566.8" x2="273.8" y2="566.8"/>
<line class="mean" x1="253" y1="553.9" x2="273.8" y2="553.9"/>
<line class="v" x1="289.4" y1="588.4" x2="289.4" y2="591.8"/>
<line class="cap" x1="279" y1="588.4" x2="299.8" y2="588.4"/>
<line class="cap" x1="279" y1="591.8" x2="299.8" y2="591.8"/>
<line class="mean" x1="279" y1="590.1" x2="299.8" y2="590.1"/>
<line class="v" x1="315.4" y1="528.8" x2="315.4" y2="578.6"/>
<line class="cap" x1="305" y1="528.8" x2="325.8" y2="528.8"/>
<line class="cap" x1="305" y1="578.6" x2="325.8" y2="578.6"/>
<line class="mean" x1="305" y1="553.7" x2="325.8" y2="553.7"/>
<text class="t" x="81.4" y="625.2" text-anchor="middle">1</text>
<text class="t" x="107.4" y="625.2" text-anchor="middle">2</text>
<text class="t" x="133.4" y="625.2" text-anchor="middle">3</text>
<text class="t" x="159.4" y="625.2" text-anchor="middle">4</text>
<text class="t" x="185.4" y="625.2" text-anchor="middle">5</text>
<text class="t" x="211.4" y="625.2" text-anchor="middle">6</text>
<text class="t" x="237.4" y="625.2" text-anchor="middle">7</text>
<text class="t" x="263.4" y="625.2" text-anchor="middle">8</text>
<text class="t" x="289.4" y="625.2" text-anchor="middle">9</text>
<text class="t" x="315.4" y="625.2" text-anchor="middle">G</text>
<text class="t" x="48.8" y="607.3" text-anchor="end">0</text>
<text class="t" x="48.8" y="562.3" text-anchor="end">1</text>
<text class="t" x="48.8" y="516.9" text-anchor="end">2</text>
<text class="t" x="48.8" y="471.3" text-anchor="end">3</text>
<text class="l" x="190.45" y="649" text-anchor="middle">subjects</text>
<g transform="rotate(-90)"><text class="l" x="-568.63" y="30.8">beta</text><text class="l" x="-529.1" y="30.8" font-style="italic">μ</text><text class="l" x="-517.39" y="30.8">V</text><text class="s2" x="-503.1" y="20.8">2</text></g>
<path class="times" d="M58.4 450.9L67.4 459.7M58.4 459.7L67.4 450.9"/>
<text class="t" x="71.47" y="460.2">10</text>
<text class="se" x="89.87" y="450.6">5</text>
<path class="ax" d="M411.7 464.7V599.6H681"/>
<line class="tk" x1="437.2" y1="599.6" x2="437.2" y2="597.1"/>
<line class="tk" x1="463.2" y1="599.6" x2="463.2" y2="597.1"/>
<line class="tk" x1="489.2" y1="599.6" x2="489.2" y2="597.1"/>
<line class="tk" x1="515.2" y1="599.6" x2="515.2" y2="597.1"/>
<line class="tk" x1="541.2" y1="599.6" x2="541.2" y2="597.1"/>
<line class="tk" x1="567.2" y1="599.6" x2="567.2" y2="597.1"/>
<line class="tk" x1="593.2" y1="599.6" x2="593.2" y2="597.1"/>
<line class="tk" x1="619.2" y1="599.6" x2="619.2" y2="597.1"/>
<line class="tk" x1="645.2" y1="599.6" x2="645.2" y2="597.1"/>
<line class="tk" x1="671.2" y1="599.6" x2="671.2" y2="597.1"/>
<line class="tk" x1="411.7" y1="599.3" x2="414.2" y2="599.3"/>
<line class="tk" x1="411.7" y1="532.3" x2="414.2" y2="532.3"/>
<line class="tk" x1="411.7" y1="465" x2="414.2" y2="465"/>
<circle class="b" cx="437.9" cy="498.5" r="3.35"/>
<circle class="b" cx="437.9" cy="502" r="3.35"/>
<circle class="b" cx="437.9" cy="505" r="3.35"/>
<circle class="b" cx="437.9" cy="508.8" r="3.35"/>
<circle class="b" cx="463.9" cy="537.9" r="3.35"/>
<circle class="b" cx="463.9" cy="542" r="3.35"/>
<circle class="b" cx="463.9" cy="546" r="3.35"/>
<circle class="b" cx="463.9" cy="550" r="3.35"/>
<circle class="b" cx="463.9" cy="554.7" r="3.35"/>
<circle class="b" cx="489.9" cy="501.1" r="3.35"/>
<circle class="b" cx="489.9" cy="505" r="3.35"/>
<circle class="b" cx="489.9" cy="510" r="3.35"/>
<circle class="b" cx="489.9" cy="515" r="3.35"/>
<circle class="b" cx="489.9" cy="518" r="3.35"/>
<circle class="b" cx="489.9" cy="524.1" r="3.35"/>
<circle class="b" cx="515.9" cy="552.3" r="3.35"/>
<circle class="b" cx="515.9" cy="560.6" r="3.35"/>
<circle class="b" cx="515.9" cy="565" r="3.35"/>
<circle class="b" cx="515.9" cy="570" r="3.35"/>
<circle class="b" cx="515.9" cy="574" r="3.35"/>
<circle class="b" cx="515.9" cy="576.7" r="3.35"/>
<circle class="b" cx="541.9" cy="512.9" r="3.35"/>
<circle class="b" cx="541.9" cy="517" r="3.35"/>
<circle class="b" cx="541.9" cy="521" r="3.35"/>
<circle class="b" cx="541.9" cy="526.1" r="3.35"/>
<circle class="b" cx="567.9" cy="535" r="3.35"/>
<circle class="b" cx="567.9" cy="549.7" r="3.35"/>
<circle class="b" cx="567.9" cy="553" r="3.35"/>
<circle class="b" cx="567.9" cy="557" r="3.35"/>
<circle class="b" cx="567.9" cy="561" r="3.35"/>
<circle class="b" cx="567.9" cy="563.5" r="3.35"/>
<circle class="b" cx="567.9" cy="569.8" r="3.35"/>
<circle class="b" cx="593.9" cy="540.3" r="3.35"/>
<circle class="b" cx="593.9" cy="544" r="3.35"/>
<circle class="b" cx="593.9" cy="548" r="3.35"/>
<circle class="b" cx="593.9" cy="552" r="3.35"/>
<circle class="b" cx="593.9" cy="556" r="3.35"/>
<circle class="b" cx="593.9" cy="560" r="3.35"/>
<circle class="b" cx="619.9" cy="508" r="3.35"/>
<circle class="b" cx="619.9" cy="513.3" r="3.35"/>
<circle class="b" cx="619.9" cy="517.2" r="3.35"/>
<circle class="b" cx="619.9" cy="522.2" r="3.35"/>
<circle class="b" cx="619.9" cy="532" r="3.35"/>
<circle class="b" cx="619.9" cy="547.8" r="3.35"/>
<circle class="b" cx="619.9" cy="550.7" r="3.35"/>
<circle class="b" cx="645.9" cy="476.4" r="3.35"/>
<circle class="b" cx="645.9" cy="480" r="3.35"/>
<circle class="b" cx="645.9" cy="484" r="3.35"/>
<circle class="b" cx="645.9" cy="488" r="3.35"/>
<circle class="b" cx="645.9" cy="491.6" r="3.35"/>
<circle class="o" cx="671.9" cy="485.1" r="3.35"/>
<circle class="o" cx="671.9" cy="503.4" r="3.35"/>
<circle class="o" cx="671.9" cy="511.7" r="3.35"/>
<circle class="o" cx="671.9" cy="518.6" r="3.35"/>
<circle class="o" cx="671.9" cy="529.1" r="3.35"/>
<circle class="o" cx="671.9" cy="545.8" r="3.35"/>
<circle class="o" cx="671.9" cy="551.1" r="3.35"/>
<circle class="o" cx="671.9" cy="557.6" r="3.35"/>
<circle class="o" cx="671.9" cy="568.5" r="3.35"/>
<line class="v" x1="437.2" y1="501.1" x2="437.2" y2="507"/>
<line class="cap" x1="426.8" y1="501.1" x2="447.6" y2="501.1"/>
<line class="cap" x1="426.8" y1="507" x2="447.6" y2="507"/>
<line class="mean" x1="426.8" y1="504" x2="447.6" y2="504"/>
<line class="v" x1="463.2" y1="540.5" x2="463.2" y2="550.7"/>
<line class="cap" x1="452.8" y1="540.5" x2="473.6" y2="540.5"/>
<line class="cap" x1="452.8" y1="550.7" x2="473.6" y2="550.7"/>
<line class="mean" x1="452.8" y1="545.4" x2="473.6" y2="545.4"/>
<line class="v" x1="489.2" y1="503.4" x2="489.2" y2="519.6"/>
<line class="cap" x1="478.8" y1="503.4" x2="499.6" y2="503.4"/>
<line class="cap" x1="478.8" y1="519.6" x2="499.6" y2="519.6"/>
<line class="mean" x1="478.8" y1="511.7" x2="499.6" y2="511.7"/>
<line class="v" x1="515.2" y1="562" x2="515.2" y2="575.8"/>
<line class="cap" x1="504.8" y1="562" x2="525.6" y2="562"/>
<line class="cap" x1="504.8" y1="575.8" x2="525.6" y2="575.8"/>
<line class="mean" x1="504.8" y1="568.5" x2="525.6" y2="568.5"/>
<line class="v" x1="541.2" y1="514.7" x2="541.2" y2="522.7"/>
<line class="cap" x1="530.8" y1="514.7" x2="551.6" y2="514.7"/>
<line class="cap" x1="530.8" y1="522.7" x2="551.6" y2="522.7"/>
<line class="mean" x1="530.8" y1="518.6" x2="551.6" y2="518.6"/>
<line class="v" x1="567.2" y1="547.8" x2="567.2" y2="567.9"/>
<line class="cap" x1="556.8" y1="547.8" x2="577.6" y2="547.8"/>
<line class="cap" x1="556.8" y1="567.9" x2="577.6" y2="567.9"/>
<line class="mean" x1="556.8" y1="558" x2="577.6" y2="558"/>
<line class="v" x1="593.2" y1="545.8" x2="593.2" y2="557"/>
<line class="cap" x1="582.8" y1="545.8" x2="603.6" y2="545.8"/>
<line class="cap" x1="582.8" y1="557" x2="603.6" y2="557"/>
<line class="mean" x1="582.8" y1="551.3" x2="603.6" y2="551.3"/>
<line class="v" x1="619.2" y1="515.7" x2="619.2" y2="543.8"/>
<line class="cap" x1="608.8" y1="515.7" x2="629.6" y2="515.7"/>
<line class="cap" x1="608.8" y1="543.8" x2="629.6" y2="543.8"/>
<line class="mean" x1="608.8" y1="529.4" x2="629.6" y2="529.4"/>
<line class="v" x1="645.2" y1="479.8" x2="645.2" y2="490.2"/>
<line class="cap" x1="634.8" y1="479.8" x2="655.6" y2="479.8"/>
<line class="cap" x1="634.8" y1="490.2" x2="655.6" y2="490.2"/>
<line class="mean" x1="634.8" y1="485.1" x2="655.6" y2="485.1"/>
<line class="vg" x1="671.2" y1="502.4" x2="671.2" y2="557.6"/>
<line class="cap" x1="660.8" y1="502.4" x2="681.6" y2="502.4"/>
<line class="cap" x1="660.8" y1="557.6" x2="681.6" y2="557.6"/>
<line class="mean" x1="660.8" y1="530" x2="681.6" y2="530"/>
<text class="t" x="437.2" y="625.2" text-anchor="middle">1</text>
<text class="t" x="463.2" y="625.2" text-anchor="middle">2</text>
<text class="t" x="489.2" y="625.2" text-anchor="middle">3</text>
<text class="t" x="515.2" y="625.2" text-anchor="middle">4</text>
<text class="t" x="541.2" y="625.2" text-anchor="middle">5</text>
<text class="t" x="567.2" y="625.2" text-anchor="middle">6</text>
<text class="t" x="593.2" y="625.2" text-anchor="middle">7</text>
<text class="t" x="619.2" y="625.2" text-anchor="middle">8</text>
<text class="t" x="645.2" y="625.2" text-anchor="middle">9</text>
<text class="t" x="671.2" y="625.2" text-anchor="middle">G</text>
<text class="t" x="405.1" y="607.2" text-anchor="end">0</text>
<text class="t" x="405.1" y="539.5" text-anchor="end">0.5</text>
<text class="t" x="405.1" y="471.7" text-anchor="end">1</text>
<text class="l" x="546.35" y="649" text-anchor="middle">subjects</text>
<text class="l" transform="rotate(-90)" x="-552.17" y="371.8">DFA</text>
<path class="ax" d="M55.4 683.4V818.3H325.5"/>
<line class="tk" x1="81.4" y1="818.3" x2="81.4" y2="815.8"/>
<line class="tk" x1="107.4" y1="818.3" x2="107.4" y2="815.8"/>
<line class="tk" x1="133.4" y1="818.3" x2="133.4" y2="815.8"/>
<line class="tk" x1="159.4" y1="818.3" x2="159.4" y2="815.8"/>
<line class="tk" x1="185.4" y1="818.3" x2="185.4" y2="815.8"/>
<line class="tk" x1="211.4" y1="818.3" x2="211.4" y2="815.8"/>
<line class="tk" x1="237.4" y1="818.3" x2="237.4" y2="815.8"/>
<line class="tk" x1="263.4" y1="818.3" x2="263.4" y2="815.8"/>
<line class="tk" x1="289.4" y1="818.3" x2="289.4" y2="815.8"/>
<line class="tk" x1="315.4" y1="818.3" x2="315.4" y2="815.8"/>
<line class="tk" x1="55.4" y1="794.2" x2="57.9" y2="794.2"/>
<line class="tk" x1="55.4" y1="738.4" x2="57.9" y2="738.4"/>
<line class="tk" x1="55.4" y1="683.6" x2="57.9" y2="683.6"/>
<circle class="b" cx="82.1" cy="785.9" r="3.35"/>
<circle class="b" cx="82.1" cy="791" r="3.35"/>
<circle class="b" cx="82.1" cy="799.3" r="3.35"/>
<circle class="b" cx="82.1" cy="804.2" r="3.35"/>
<circle class="b" cx="82.1" cy="809.6" r="3.35"/>
<circle class="b" cx="108.1" cy="790" r="3.35"/>
<circle class="b" cx="108.1" cy="795.4" r="3.35"/>
<circle class="b" cx="108.1" cy="799" r="3.35"/>
<circle class="b" cx="108.1" cy="805.2" r="3.35"/>
<circle class="b" cx="134.1" cy="811.5" r="3.35"/>
<circle class="b" cx="134.1" cy="816" r="3.35"/>
<circle class="b" cx="160.1" cy="777.6" r="3.35"/>
<circle class="b" cx="160.1" cy="783.5" r="3.35"/>
<circle class="b" cx="160.1" cy="788.5" r="3.35"/>
<circle class="b" cx="160.1" cy="793.4" r="3.35"/>
<circle class="b" cx="160.1" cy="798.3" r="3.35"/>
<circle class="b" cx="160.1" cy="803.6" r="3.35"/>
<circle class="b" cx="186.1" cy="773.1" r="3.35"/>
<circle class="b" cx="186.1" cy="786.5" r="3.35"/>
<circle class="b" cx="186.1" cy="791.4" r="3.35"/>
<circle class="b" cx="186.1" cy="796.4" r="3.35"/>
<circle class="b" cx="186.1" cy="802.7" r="3.35"/>
<circle class="b" cx="212.1" cy="739.8" r="3.35"/>
<circle class="b" cx="212.1" cy="763.7" r="3.35"/>
<circle class="b" cx="212.1" cy="767.8" r="3.35"/>
<circle class="b" cx="212.1" cy="779" r="3.35"/>
<circle class="b" cx="212.1" cy="783.1" r="3.35"/>
<circle class="b" cx="212.1" cy="787.2" r="3.35"/>
<circle class="b" cx="212.1" cy="798.8" r="3.35"/>
<circle class="b" cx="238.1" cy="707.5" r="3.35"/>
<circle class="b" cx="238.1" cy="715.7" r="3.35"/>
<circle class="b" cx="238.1" cy="721.8" r="3.35"/>
<circle class="b" cx="238.1" cy="727" r="3.35"/>
<circle class="b" cx="238.1" cy="734" r="3.35"/>
<circle class="b" cx="238.1" cy="744.3" r="3.35"/>
<circle class="b" cx="238.1" cy="751.4" r="3.35"/>
<circle class="b" cx="264.1" cy="780.4" r="3.35"/>
<circle class="b" cx="264.1" cy="785.1" r="3.35"/>
<circle class="b" cx="264.1" cy="789" r="3.35"/>
<circle class="b" cx="264.1" cy="793" r="3.35"/>
<circle class="b" cx="264.1" cy="797" r="3.35"/>
<circle class="b" cx="264.1" cy="801.5" r="3.35"/>
<circle class="b" cx="290.1" cy="732.6" r="3.35"/>
<circle class="b" cx="290.1" cy="749.4" r="3.35"/>
<circle class="b" cx="290.1" cy="763.7" r="3.35"/>
<circle class="b" cx="290.1" cy="765.7" r="3.35"/>
<circle class="b" cx="290.1" cy="775.9" r="3.35"/>
<circle class="b" cx="290.1" cy="780" r="3.35"/>
<circle class="b" cx="290.1" cy="785.1" r="3.35"/>
<circle class="b" cx="290.1" cy="790.3" r="3.35"/>
<circle class="o" cx="316.1" cy="727.5" r="3.35"/>
<circle class="o" cx="316.1" cy="771.5" r="3.35"/>
<circle class="o" cx="316.1" cy="779.6" r="3.35"/>
<circle class="o" cx="316.1" cy="791.3" r="3.35"/>
<circle class="o" cx="316.1" cy="799.5" r="3.35"/>
<circle class="o" cx="316.1" cy="801.1" r="3.35"/>
<circle class="o" cx="316.1" cy="815.4" r="3.35"/>
<line class="v" x1="81.4" y1="794" x2="81.4" y2="807.6"/>
<line class="cap" x1="71" y1="794" x2="91.8" y2="794"/>
<line class="cap" x1="71" y1="807.6" x2="91.8" y2="807.6"/>
<line class="mean" x1="71" y1="800.7" x2="91.8" y2="800.7"/>
<line class="v" x1="107.4" y1="795.4" x2="107.4" y2="803.8"/>
<line class="cap" x1="97" y1="795.4" x2="117.8" y2="795.4"/>
<line class="cap" x1="97" y1="803.8" x2="117.8" y2="803.8"/>
<line class="mean" x1="97" y1="799.3" x2="117.8" y2="799.3"/>
<line class="v" x1="133.4" y1="814.3" x2="133.4" y2="818"/>
<line class="cap" x1="123" y1="814.3" x2="143.8" y2="814.3"/>
<line class="cap" x1="123" y1="818" x2="143.8" y2="818"/>
<line class="mean" x1="123" y1="816.3" x2="143.8" y2="816.3"/>
<line class="v" x1="159.4" y1="785.5" x2="159.4" y2="801.3"/>
<line class="cap" x1="149" y1="785.5" x2="169.8" y2="785.5"/>
<line class="cap" x1="149" y1="801.3" x2="169.8" y2="801.3"/>
<line class="mean" x1="149" y1="793.4" x2="169.8" y2="793.4"/>
<line class="v" x1="185.4" y1="785.9" x2="185.4" y2="801.3"/>
<line class="cap" x1="175" y1="785.9" x2="195.8" y2="785.9"/>
<line class="cap" x1="175" y1="801.3" x2="195.8" y2="801.3"/>
<line class="mean" x1="175" y1="793.4" x2="195.8" y2="793.4"/>
<line class="v" x1="211.4" y1="763.5" x2="211.4" y2="795.4"/>
<line class="cap" x1="201" y1="763.5" x2="221.8" y2="763.5"/>
<line class="cap" x1="201" y1="795.4" x2="221.8" y2="795.4"/>
<line class="mean" x1="201" y1="779.4" x2="221.8" y2="779.4"/>
<line class="v" x1="237.4" y1="714.8" x2="237.4" y2="739.8"/>
<line class="cap" x1="227" y1="714.8" x2="247.8" y2="714.8"/>
<line class="cap" x1="227" y1="739.8" x2="247.8" y2="739.8"/>
<line class="mean" x1="227" y1="727.5" x2="247.8" y2="727.5"/>
<line class="v" x1="263.4" y1="784.7" x2="263.4" y2="798"/>
<line class="cap" x1="253" y1="784.7" x2="273.8" y2="784.7"/>
<line class="cap" x1="253" y1="798" x2="273.8" y2="798"/>
<line class="mean" x1="253" y1="791.3" x2="273.8" y2="791.3"/>
<line class="v" x1="289.4" y1="754.5" x2="289.4" y2="787.8"/>
<line class="cap" x1="279" y1="754.5" x2="299.8" y2="754.5"/>
<line class="cap" x1="279" y1="787.8" x2="299.8" y2="787.8"/>
<line class="mean" x1="279" y1="771.2" x2="299.8" y2="771.2"/>
<line class="v" x1="315.4" y1="760.6" x2="315.4" y2="811.1"/>
<line class="cap" x1="305" y1="760.6" x2="325.8" y2="760.6"/>
<line class="cap" x1="305" y1="811.1" x2="325.8" y2="811.1"/>
<line class="mean" x1="305" y1="786.2" x2="325.8" y2="786.2"/>
<text class="t" x="81.4" y="843.9" text-anchor="middle">1</text>
<text class="t" x="107.4" y="843.9" text-anchor="middle">2</text>
<text class="t" x="133.4" y="843.9" text-anchor="middle">3</text>
<text class="t" x="159.4" y="843.9" text-anchor="middle">4</text>
<text class="t" x="185.4" y="843.9" text-anchor="middle">5</text>
<text class="t" x="211.4" y="843.9" text-anchor="middle">6</text>
<text class="t" x="237.4" y="843.9" text-anchor="middle">7</text>
<text class="t" x="263.4" y="843.9" text-anchor="middle">8</text>
<text class="t" x="289.4" y="843.9" text-anchor="middle">9</text>
<text class="t" x="315.4" y="843.9" text-anchor="middle">G</text>
<text class="t" x="48.8" y="801.4" text-anchor="end">1</text>
<text class="t" x="48.8" y="745.6" text-anchor="end">2</text>
<text class="t" x="48.8" y="690.3" text-anchor="end">3</text>
<text class="l" x="190.45" y="867.7" text-anchor="middle">subjects</text>
<g transform="rotate(-90)"><text class="l" x="-800.4" y="30.8">gamma</text><text class="l" x="-735.58" y="30.8" font-style="italic">μ</text><text class="l" x="-723.87" y="30.8">V</text><text class="s2" x="-709.57" y="20.8">2</text></g>
<path class="times" d="M58.4 669.6L67.4 678.4M58.4 678.4L67.4 669.6"/>
<text class="t" x="71.47" y="678.9">10</text>
<text class="se" x="90.49" y="669.3">4</text>
<path class="ax" d="M411.7 683.4V818.3H681"/>
<line class="tk" x1="437.2" y1="818.3" x2="437.2" y2="815.8"/>
<line class="tk" x1="463.2" y1="818.3" x2="463.2" y2="815.8"/>
<line class="tk" x1="489.2" y1="818.3" x2="489.2" y2="815.8"/>
<line class="tk" x1="515.2" y1="818.3" x2="515.2" y2="815.8"/>
<line class="tk" x1="541.2" y1="818.3" x2="541.2" y2="815.8"/>
<line class="tk" x1="567.2" y1="818.3" x2="567.2" y2="815.8"/>
<line class="tk" x1="593.2" y1="818.3" x2="593.2" y2="815.8"/>
<line class="tk" x1="619.2" y1="818.3" x2="619.2" y2="815.8"/>
<line class="tk" x1="645.2" y1="818.3" x2="645.2" y2="815.8"/>
<line class="tk" x1="671.2" y1="818.3" x2="671.2" y2="815.8"/>
<line class="tk" x1="411.7" y1="797.9" x2="414.2" y2="797.9"/>
<line class="tk" x1="411.7" y1="759.2" x2="414.2" y2="759.2"/>
<line class="tk" x1="411.7" y1="721" x2="414.2" y2="721"/>
<line class="tk" x1="411.7" y1="683.6" x2="414.2" y2="683.6"/>
<circle class="b" cx="437.9" cy="700.8" r="3.35"/>
<circle class="b" cx="437.9" cy="705.1" r="3.35"/>
<circle class="b" cx="463.9" cy="731.3" r="3.35"/>
<circle class="b" cx="463.9" cy="737.2" r="3.35"/>
<circle class="b" cx="463.9" cy="743.1" r="3.35"/>
<circle class="b" cx="463.9" cy="746.1" r="3.35"/>
<circle class="b" cx="463.9" cy="759.5" r="3.35"/>
<circle class="b" cx="489.9" cy="705.3" r="3.35"/>
<circle class="b" cx="489.9" cy="709" r="3.35"/>
<circle class="b" cx="489.9" cy="713" r="3.35"/>
<circle class="b" cx="489.9" cy="719.1" r="3.35"/>
<circle class="b" cx="515.9" cy="717.1" r="3.35"/>
<circle class="b" cx="515.9" cy="736.2" r="3.35"/>
<circle class="b" cx="515.9" cy="738.6" r="3.35"/>
<circle class="b" cx="515.9" cy="763.2" r="3.35"/>
<circle class="b" cx="515.9" cy="771.7" r="3.35"/>
<circle class="b" cx="515.9" cy="781.2" r="3.35"/>
<circle class="b" cx="515.9" cy="784.5" r="3.35"/>
<circle class="b" cx="515.9" cy="787.5" r="3.35"/>
<circle class="b" cx="515.9" cy="801.3" r="3.35"/>
<circle class="b" cx="515.9" cy="803.8" r="3.35"/>
<circle class="b" cx="515.9" cy="817.4" r="3.35"/>
<circle class="b" cx="541.9" cy="703.3" r="3.35"/>
<circle class="b" cx="541.9" cy="712" r="3.35"/>
<circle class="b" cx="567.9" cy="721.5" r="3.35"/>
<circle class="b" cx="567.9" cy="733.3" r="3.35"/>
<circle class="b" cx="567.9" cy="742.2" r="3.35"/>
<circle class="b" cx="567.9" cy="753" r="3.35"/>
<circle class="b" cx="567.9" cy="757.5" r="3.35"/>
<circle class="b" cx="567.9" cy="770.1" r="3.35"/>
<circle class="b" cx="567.9" cy="779.2" r="3.35"/>
<circle class="b" cx="593.9" cy="715.2" r="3.35"/>
<circle class="b" cx="593.9" cy="726" r="3.35"/>
<circle class="b" cx="593.9" cy="731.9" r="3.35"/>
<circle class="b" cx="593.9" cy="737.2" r="3.35"/>
<circle class="b" cx="593.9" cy="745.1" r="3.35"/>
<circle class="b" cx="593.9" cy="764.8" r="3.35"/>
<circle class="b" cx="619.9" cy="699.8" r="3.35"/>
<circle class="b" cx="619.9" cy="704.7" r="3.35"/>
<circle class="b" cx="619.9" cy="708.7" r="3.35"/>
<circle class="b" cx="619.9" cy="720.5" r="3.35"/>
<circle class="b" cx="619.9" cy="722.1" r="3.35"/>
<circle class="b" cx="619.9" cy="736.6" r="3.35"/>
<circle class="b" cx="619.9" cy="738.2" r="3.35"/>
<circle class="b" cx="645.9" cy="693.9" r="3.35"/>
<circle class="b" cx="645.9" cy="697.2" r="3.35"/>
<circle class="o" cx="671.9" cy="694.9" r="3.35"/>
<circle class="o" cx="671.9" cy="703.1" r="3.35"/>
<circle class="o" cx="671.9" cy="706.3" r="3.35"/>
<circle class="o" cx="671.9" cy="711.6" r="3.35"/>
<circle class="o" cx="671.9" cy="714.2" r="3.35"/>
<circle class="o" cx="671.9" cy="734.3" r="3.35"/>
<circle class="o" cx="671.9" cy="741.6" r="3.35"/>
<circle class="o" cx="671.9" cy="750.6" r="3.35"/>
<circle class="o" cx="671.9" cy="773.7" r="3.35"/>
<line class="v" x1="437.2" y1="702" x2="437.2" y2="704.6"/>
<line class="cap" x1="426.8" y1="702" x2="447.6" y2="702"/>
<line class="cap" x1="426.8" y1="704.6" x2="447.6" y2="704.6"/>
<line class="mean" x1="426.8" y1="703.3" x2="447.6" y2="703.3"/>
<line class="v" x1="463.2" y1="733.7" x2="463.2" y2="748.7"/>
<line class="cap" x1="452.8" y1="733.7" x2="473.6" y2="733.7"/>
<line class="cap" x1="452.8" y1="748.7" x2="473.6" y2="748.7"/>
<line class="mean" x1="452.8" y1="741.2" x2="473.6" y2="741.2"/>
<line class="v" x1="489.2" y1="706.7" x2="489.2" y2="715.5"/>
<line class="cap" x1="478.8" y1="706.7" x2="499.6" y2="706.7"/>
<line class="cap" x1="478.8" y1="715.5" x2="499.6" y2="715.5"/>
<line class="mean" x1="478.8" y1="711" x2="499.6" y2="711"/>
<line class="v" x1="515.2" y1="743.5" x2="515.2" y2="803.8"/>
<line class="cap" x1="504.8" y1="743.5" x2="525.6" y2="743.5"/>
<line class="cap" x1="504.8" y1="803.8" x2="525.6" y2="803.8"/>
<line class="mean" x1="504.8" y1="773.7" x2="525.6" y2="773.7"/>
<line class="v" x1="541.2" y1="704.3" x2="541.2" y2="708.3"/>
<line class="cap" x1="530.8" y1="704.3" x2="551.6" y2="704.3"/>
<line class="cap" x1="530.8" y1="708.3" x2="551.6" y2="708.3"/>
<line class="mean" x1="530.8" y1="706.3" x2="551.6" y2="706.3"/>
<line class="v" x1="567.2" y1="734.7" x2="567.2" y2="767.8"/>
<line class="cap" x1="556.8" y1="734.7" x2="577.6" y2="734.7"/>
<line class="cap" x1="556.8" y1="767.8" x2="577.6" y2="767.8"/>
<line class="mean" x1="556.8" y1="751.4" x2="577.6" y2="751.4"/>
<line class="v" x1="593.2" y1="721.1" x2="593.2" y2="747.7"/>
<line class="cap" x1="582.8" y1="721.1" x2="603.6" y2="721.1"/>
<line class="cap" x1="582.8" y1="747.7" x2="603.6" y2="747.7"/>
<line class="mean" x1="582.8" y1="734.3" x2="603.6" y2="734.3"/>
<line class="v" x1="619.2" y1="701.4" x2="619.2" y2="726.8"/>
<line class="cap" x1="608.8" y1="701.4" x2="629.6" y2="701.4"/>
<line class="cap" x1="608.8" y1="726.8" x2="629.6" y2="726.8"/>
<line class="mean" x1="608.8" y1="714" x2="629.6" y2="714"/>
<line class="v" x1="645.2" y1="694.3" x2="645.2" y2="695.5"/>
<line class="cap" x1="634.8" y1="694.3" x2="655.6" y2="694.3"/>
<line class="cap" x1="634.8" y1="695.5" x2="655.6" y2="695.5"/>
<line class="mean" x1="634.8" y1="694.9" x2="655.6" y2="694.9"/>
<line class="vg" x1="671.2" y1="699.4" x2="671.2" y2="752"/>
<line class="cap" x1="660.8" y1="699.4" x2="681.6" y2="699.4"/>
<line class="cap" x1="660.8" y1="752" x2="681.6" y2="752"/>
<line class="mean" x1="660.8" y1="725.8" x2="681.6" y2="725.8"/>
<text class="t" x="437.2" y="843.9" text-anchor="middle">1</text>
<text class="t" x="463.2" y="843.9" text-anchor="middle">2</text>
<text class="t" x="489.2" y="843.9" text-anchor="middle">3</text>
<text class="t" x="515.2" y="843.9" text-anchor="middle">4</text>
<text class="t" x="541.2" y="843.9" text-anchor="middle">5</text>
<text class="t" x="567.2" y="843.9" text-anchor="middle">6</text>
<text class="t" x="593.2" y="843.9" text-anchor="middle">7</text>
<text class="t" x="619.2" y="843.9" text-anchor="middle">8</text>
<text class="t" x="645.2" y="843.9" text-anchor="middle">9</text>
<text class="t" x="671.2" y="843.9" text-anchor="middle">G</text>
<text class="t" x="405.1" y="805.1" text-anchor="end">14</text>
<text class="t" x="405.1" y="766.4" text-anchor="end">16</text>
<text class="t" x="405.1" y="728.2" text-anchor="end">18</text>
<text class="t" x="405.1" y="690.3" text-anchor="end">20</text>
<text class="l" x="546.35" y="867.7" text-anchor="middle">subjects</text>
<text class="l" transform="rotate(-90)" x="-769.87" y="377">pMP</text>
</svg></body></html>
